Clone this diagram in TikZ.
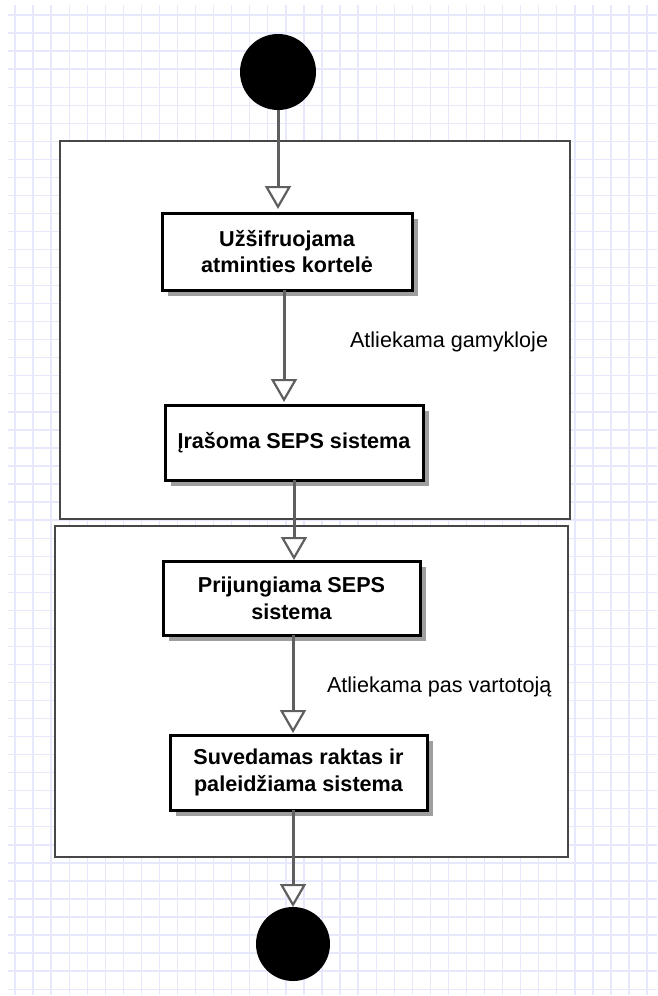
\documentclass[tikz,border=0pt]{standalone}
\usepackage{fontspec}
\setmainfont{Liberation Sans}
\usetikzlibrary{arrows.meta,shadows}
\definecolor{gridc}{RGB}{232,232,252}
\definecolor{flowc}{RGB}{95,95,95}
\begin{document}
\begin{tikzpicture}[x=1pt,y=-1pt,
  every node/.style={inner sep=0pt, outer sep=0pt},
  activity/.style={draw=black, line width=3pt, fill=white, align=center,
    font=\bfseries\fontsize{21.6}{26.7}\selectfont,
    drop shadow={shadow xshift=6pt, shadow yshift=-6pt, fill=black!38, opacity=1}},
  zone/.style={draw=black!72, line width=2.2pt, fill=white},
  terminal/.style={circle, fill=black},
  flow/.style={draw=flowc, line width=3pt,
    -{Triangle[width=26pt, length=23pt, fill=white, line width=2.2pt]}},
  note/.style={anchor=west, font=\fontsize{21.6}{26.7}\selectfont},
  gridline/.style={draw=gridc, line width=1.3pt}
]
% page and background grid
\useasboundingbox (0,0) rectangle (657,996);
\fill[white] (0,0) rectangle (657,996);
\begin{scope}
  \clip (8,5) rectangle (657,995);
  \foreach \i in {0,...,35} \draw[gridline] ({15+18.06*\i},5) -- ({15+18.06*\i},995);
  \foreach \j in {0,...,54} \draw[gridline] (8,{15+18.04*\j}) -- (657,{15+18.04*\j});
\end{scope}

% swimlane-like frames
\node[zone, minimum width=510pt, minimum height=378pt] (zone1) at (315,330) {};
\node[zone, minimum width=513pt, minimum height=331pt] (zone2) at (311.5,691.5) {};

% initial and final states
\node[terminal, minimum size=76pt] (start) at (278,72) {};
\node[terminal, minimum size=74pt] (stop) at (293,944) {};

% activities
\node[activity, minimum width=250pt, minimum height=77pt] (A1) at (287,251.5)
  {Užšifruojama\\atminties kortelė};
\node[activity, minimum width=258pt, minimum height=75pt] (A2) at (294,442.5)
  {Įrašoma SEPS sistema};
\node[activity, minimum width=257pt, minimum height=74pt] (A3) at (291.5,598)
  {Prijungiama SEPS\\sistema};
\node[activity, minimum width=257pt, minimum height=75pt] (A4) at (298.5,772.5)
  {Suvedamas raktas ir\\paleidžiama sistema};

% lane labels
\node[note] (lab1) at (350,341.5) {Atliekama gamykloje};
\node[note] (lab2) at (327,687) {Atliekama pas vartotoją};

% control flow
\draw[flow, shorten >=4pt] (start) -- (start |- A1.north);
\draw[flow, shorten >=3pt] ([xshift=-3pt]A1.south) -- ([xshift=-3pt]A1.south |- A2.north);
\draw[flow, shorten >=1pt] (A2.south) -- (A2.south |- A3.north);
\draw[flow, shorten >=2pt] ([xshift=1.5pt]A3.south) -- ([xshift=1.5pt]A3.south |- A4.north);
\draw[flow] (stop |- A4.south) -- (stop.north);
\end{tikzpicture}
\end{document}
